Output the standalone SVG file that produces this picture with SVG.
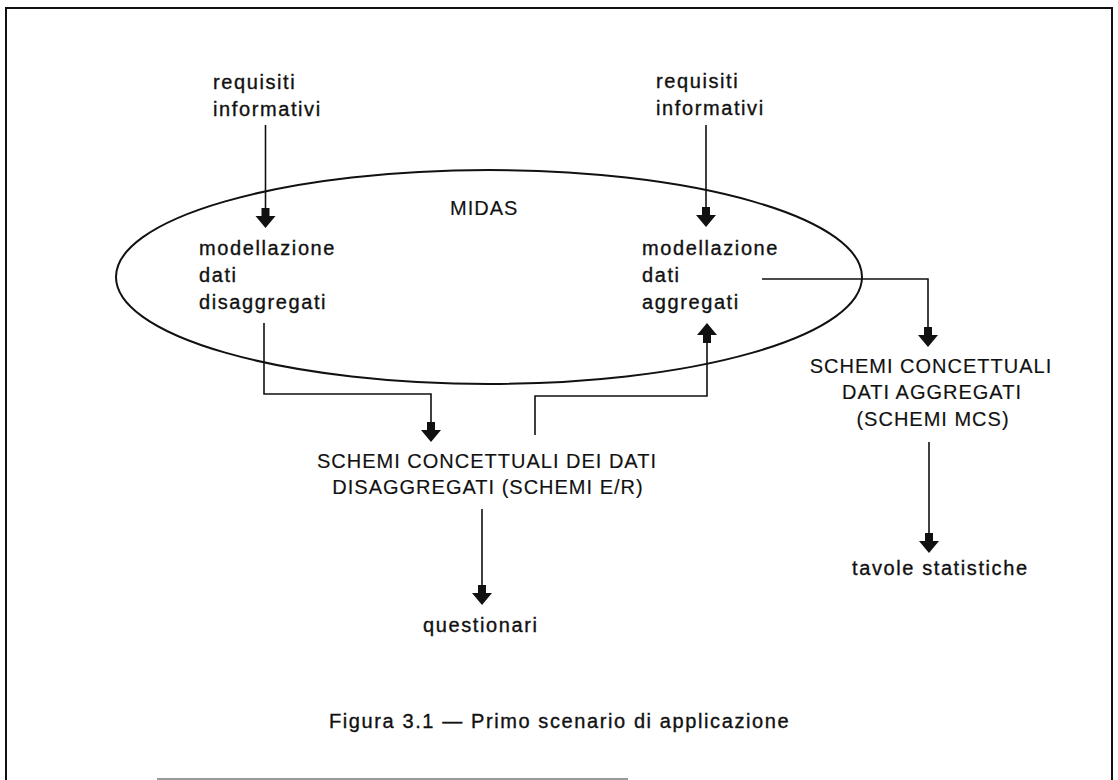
<svg xmlns="http://www.w3.org/2000/svg" width="1118" height="780" viewBox="0 0 1118 780">
  <style>
    .lc { font-family: "Liberation Sans", Arial, Helvetica, sans-serif; font-size: 20px; letter-spacing: 1.6px; fill: #111; stroke: #111; stroke-width: 0.35; }
    .uc { font-family: "Liberation Sans", Arial, Helvetica, sans-serif; font-size: 20px; letter-spacing: 1px; fill: #111; stroke: #111; stroke-width: 0.15; }
    .mid { text-anchor: middle; }
    .wire { fill: none; stroke: #111; stroke-width: 1.6; }
    .head { fill: #111; stroke: none; }
  </style>
  <defs>
    <!-- block arrowhead, tip at origin pointing down -->
    <path id="down" class="head" d="M-4,-20 L4,-20 L4,-12 L10,-12 L0,0 L-10,-12 L-4,-12 Z"/>
  </defs>

  <rect width="1118" height="780" fill="#fff"/>

  <!-- page frame -->
  <g id="frame" fill="none">
    <path d="M6,780 L6,8 L1112,8 L1112,780" stroke="#111" stroke-width="2"/>
    <line x1="157" y1="779" x2="628" y2="779" stroke="#999" stroke-width="2"/>
  </g>

  <!-- MIDAS system boundary -->
  <g id="midas">
    <ellipse cx="489" cy="277" rx="373" ry="107" fill="none" stroke="#111" stroke-width="2"/>
    <text class="uc" x="450" y="215">MIDAS</text>
  </g>

  <g id="req-left">
    <text class="lc" x="213" y="89">requisiti</text>
    <text class="lc" x="213" y="116">informativi</text>
  </g>

  <g id="req-right">
    <text class="lc" x="656" y="88">requisiti</text>
    <text class="lc" x="656" y="115">informativi</text>
  </g>

  <g id="mod-disagg">
    <text class="lc" x="199" y="255">modellazione</text>
    <text class="lc" x="199" y="282">dati</text>
    <text class="lc" x="199" y="309">disaggregati</text>
  </g>

  <g id="mod-agg">
    <text class="lc" x="642" y="255">modellazione</text>
    <text class="lc" x="642" y="282">dati</text>
    <text class="lc" x="642" y="309">aggregati</text>
  </g>

  <g id="schemi-er">
    <text class="uc mid" x="487" y="468">SCHEMI CONCETTUALI DEI DATI</text>
    <text class="uc mid" x="488" y="494">DISAGGREGATI (SCHEMI E/R)</text>
  </g>

  <g id="schemi-mcs">
    <text class="uc mid" x="931" y="373">SCHEMI CONCETTUALI</text>
    <text class="uc mid" x="932" y="399">DATI AGGREGATI</text>
    <text class="uc mid" x="933" y="426">(SCHEMI MCS)</text>
  </g>

  <g id="questionari">
    <text class="lc" x="423" y="632">questionari</text>
  </g>

  <g id="tavole">
    <text class="lc" x="852" y="575">tavole statistiche</text>
  </g>

  <g id="connectors">
    <!-- requisiti -> modellazione (disaggregati) -->
    <path class="wire" d="M265.5,125 L265.5,215"/>
    <use href="#down" x="265.5" y="228"/>
    <!-- requisiti -> modellazione (aggregati) -->
    <path class="wire" d="M706,125 L706,215"/>
    <use href="#down" x="706" y="227"/>
    <!-- disaggregati -> schemi E/R -->
    <path class="wire" d="M264,323 L264,394 L431,394 L431,430"/>
    <use href="#down" x="431" y="442"/>
    <!-- schemi E/R -> aggregati -->
    <path class="wire" d="M535,435 L535,396 L707,396 L707,335"/>
    <use href="#down" transform="translate(707,323) rotate(180)"/>
    <!-- aggregati -> schemi MCS -->
    <path class="wire" d="M762,279 L928,279 L928,335"/>
    <use href="#down" x="928" y="347"/>
    <!-- schemi E/R -> questionari -->
    <path class="wire" d="M482,509 L482,593"/>
    <use href="#down" x="482" y="605"/>
    <!-- schemi MCS -> tavole statistiche -->
    <path class="wire" d="M929,442 L929,541"/>
    <use href="#down" x="929" y="553"/>
  </g>

  <g id="caption">
    <text class="lc" x="329" y="728">Figura 3.1 — Primo scenario di applicazione</text>
  </g>
</svg>
